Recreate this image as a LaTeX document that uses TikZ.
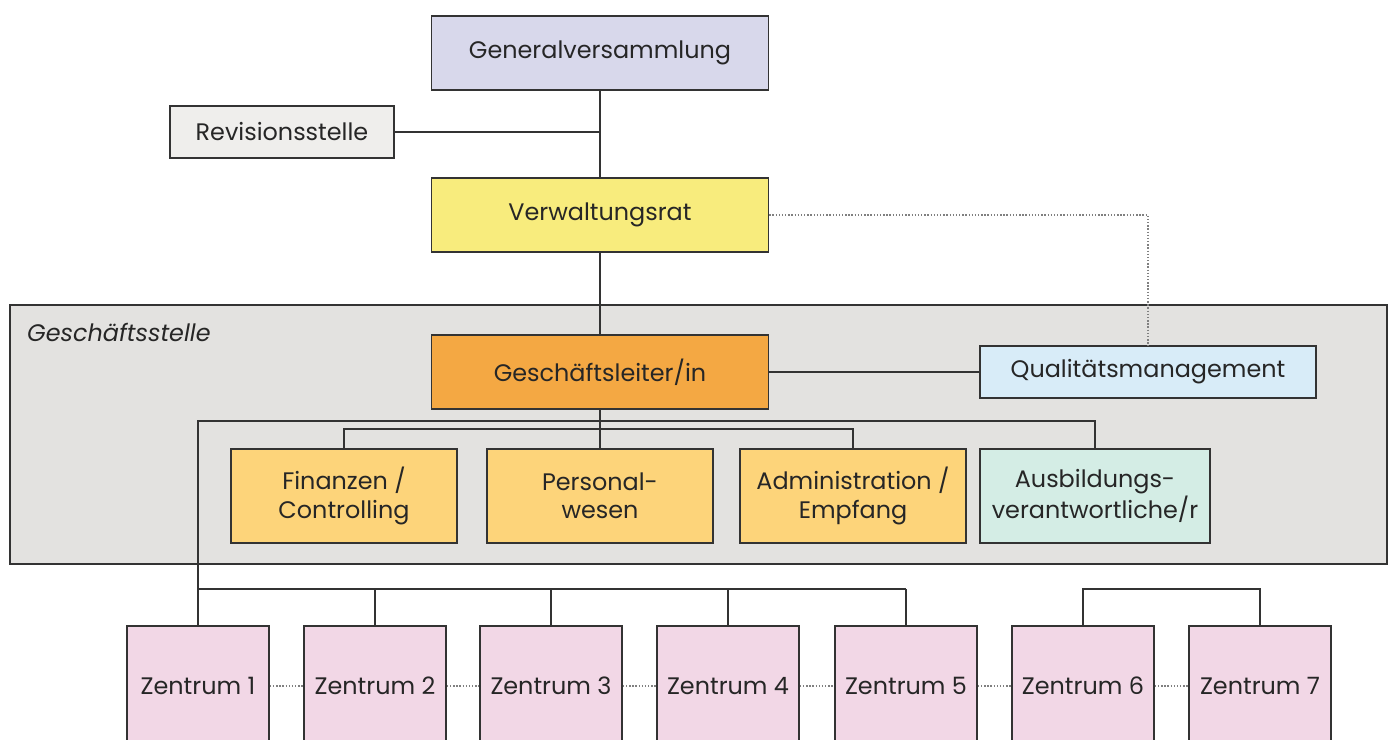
\documentclass[tikz,border=0pt]{standalone}
\usepackage{fontspec}
\setmainfont{Poppins}

\definecolor{gvfill}{HTML}{D8D8EB}
\definecolor{revfill}{HTML}{EFEEEC}
\definecolor{vrfill}{HTML}{F8EC7D}
\definecolor{gsfill}{HTML}{E3E2E0}
\definecolor{glfill}{HTML}{F4A843}
\definecolor{qmfill}{HTML}{D8ECF8}
\definecolor{depfill}{HTML}{FDD47A}
\definecolor{ausfill}{HTML}{D4EDE5}
\definecolor{zfill}{HTML}{F2D7E6}
\definecolor{linecol}{HTML}{333333}

\begin{document}
\begin{tikzpicture}
        [
        x=0.02cm, y=-0.02cm,
        align=center,
        font=\fontsize{13.6}{16}\selectfont,
        box/.style={rectangle, draw=linecol, line width=0.9pt, inner sep=0pt, text=black!85},
        head/.style={box, minimum width=6.74cm, minimum height=1.47cm},
        side/.style={box, minimum height=1.03cm},
        dept/.style={box, fill=depfill, minimum width=4.52cm, minimum height=1.88cm},
        zentrum/.style={box, fill=zfill, minimum width=2.84cm, minimum height=2.4cm},
        stelle/.style={rectangle, draw=linecol, line width=0.9pt, fill=gsfill, minimum width=27.54cm, minimum height=5.18cm},
        conn/.style={draw=linecol, line width=0.9pt},
        dots/.style={draw=black!50, line width=0.8pt, densely dotted},
        ]
                \useasboundingbox (0,0) rectangle (1394,740);
                \clip (0,0) rectangle (1394,740);

                % frame
                \node[stelle] (gs) at (698.5,434.5) {};
                \node[anchor=west, font=\fontsize{13.6}{16}\selectfont\itshape, text=black!85] (gslabel) at (21,332) {Geschäftsstelle};

                % nodes
                \node[head, fill=gvfill] (gv) at (600,53) {Generalversammlung};
                \node[side, fill=revfill, minimum width=4.48cm] (rev) at (282,132) {Revisionsstelle};
                \node[head, fill=vrfill] (vr) at (600,215) {Verwaltungsrat};
                \node[head, fill=glfill] (gl) at (600,372) {Geschäftsleiter/in};
                \node[side, fill=qmfill, minimum width=6.72cm] (qm) at (1148,372) {Qualitätsmanagement};

                % departments
                \node[dept] (fin) at (344,496) {Finanzen /\\Controlling};
                \node[dept] (pers) at (600,496) {Personal-\\wesen};
                \node[dept] (adm) at (853,496) {Administration /\\Empfang};
                \node[dept, fill=ausfill, minimum width=4.6cm] (aus) at (1095,496) {Ausbildungs-\\verantwortliche/r};

                % zentren
                \foreach \i/\x in {1/198,2/375,3/551,4/728,5/906,6/1083,7/1260}
                        \node[zentrum] (z\i) at (\x,686) {Zentrum \i};

                % bars
                \coordinate (barA) at (0,429);
                \coordinate (barB) at (0,421);
                \coordinate (barC) at (0,589);

                % drawing code
                \foreach \from/\to in {gv/vr,vr/gl,gl/pers} \draw[conn] (\from) -- (\to);
                \draw[conn] (rev.east) -- (rev.east -| gv.south);
                \draw[conn] (gl.east) -- (qm.west);
                \draw[dots] (vr.east) -| (qm.north);
                \draw[conn] (fin.north) -- (fin.north |- barA) -- (adm.north |- barA) -- (adm.north);
                \draw[conn] (z1.north) -- (z1.north |- barB) -- (aus.north |- barB) -- (aus.north);
                \draw[conn] (z1.north |- barC) -- (z5.north |- barC);
                \foreach \i in {2,...,5} \draw[conn] (z\i.north) -- (z\i.north |- barC);
                \draw[conn] (z6.north) -- (z6.north |- barC) -- (z7.north |- barC) -- (z7.north);
                \foreach \from/\to in {z1/z2,z2/z3,z3/z4,z4/z5,z5/z6,z6/z7} \draw[dots] (\from.east) -- (\to.west);
        \end{tikzpicture}
\end{document}
